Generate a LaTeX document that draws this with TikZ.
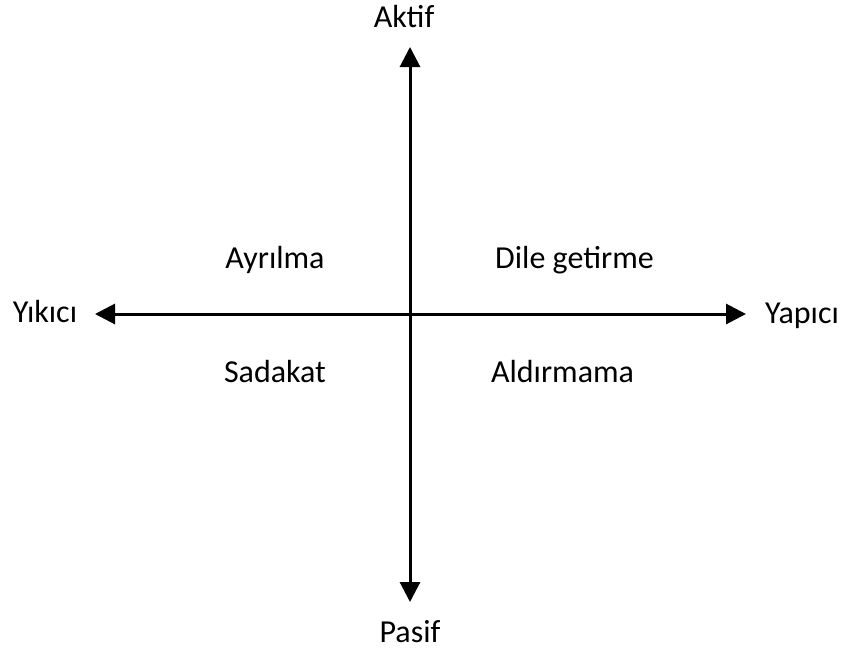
\documentclass[tikz,border=0pt]{standalone}
\usepackage{fontspec}
\setmainfont{Carlito}
\usetikzlibrary{arrows.meta}
\begin{document}
\begin{tikzpicture}[x=1pt,y=-1pt,
  axis/.style={line width=3pt,-{Triangle[length=20pt,width=20pt]}},
  lbl/.style={font=\fontsize{32}{38}\selectfont,inner sep=0pt,anchor=base}]
\useasboundingbox (0,0) rectangle (845,648);
% axis end points and centre
\coordinate (o) at (410,314);
\coordinate (top) at (410,47);
\coordinate (bot) at (410,602);
\coordinate (lft) at (95,314);
\coordinate (rgt) at (746,314);
\draw[axis] (o) -- (top);
\draw[axis] (o) -- (bot);
\draw[axis] (o) -- (lft);
\draw[axis] (o) -- (rgt);
% axis labels (placed by baseline)
\node[lbl] (aktif) at (404,27) {Aktif};
\node[lbl] (pasif) at (410,642) {Pasif};
\node[lbl] (yikici) at (45,322) {Yıkıcı};
\node[lbl] (yapici) at (802,323) {Yapıcı};
% quadrant labels
\node[lbl] (ayrilma) at (275,268) {Ayrılma};
\node[lbl] (dile) at (574.5,268) {Dile getirme};
\node[lbl] (sadakat) at (275,382) {Sadakat};
\node[lbl] (aldirmama) at (562.5,382) {Aldırmama};
\end{tikzpicture}
\end{document}
